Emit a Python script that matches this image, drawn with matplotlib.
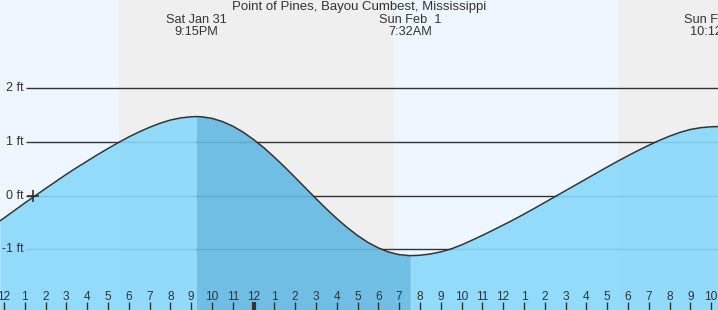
import numpy as np
import matplotlib
matplotlib.use("Agg")
import matplotlib.pyplot as plt

plt.rcParams['font.family'] = ['Liberation Sans', 'DejaVu Sans']

# station name
title = "Point of Pines, Bayou Cumbest, Mississippi"

# tide height (ft) every half hour, hours counted from midnight Feb 1
step_hours = np.arange(-12, 22.5, 0.5)
heights = [-0.42, -0.28, -0.14, -0.005, 0.13, 0.262, 0.395, 0.52, 0.64, 0.76,
           0.875, 0.985, 1.09, 1.185, 1.27, 1.345, 1.405, 1.445, 1.466, 1.466,
           1.437, 1.378, 1.292, 1.18,
           1.043, 0.889, 0.714, 0.530, 0.336, 0.139, -0.057, -0.248, -0.429, -0.595,
           -0.744, -0.874, -0.975, -1.053, -1.101, -1.119, -1.113, -1.089, -1.05, -0.995,
           -0.92, -0.833, -0.742, -0.648, -0.55, -0.452, -0.347, -0.24, -0.13, -0.02,
           0.09, 0.2, 0.31, 0.42, 0.53, 0.637, 0.74, 0.84, 0.935, 1.025,
           1.105, 1.175, 1.23, 1.263, 1.28]

# readings at the left/right edges of the chart
edge_hours = [-12.2, 22.35]
edge_heights = [-0.475, 1.283]

# high / low tides
ext_hours = [-2.75, 7.533, 22.2]
ext_heights = [1.47, -1.12, 1.283]
ext_days = ["Sat Jan 31", "Sun Feb  1", "Sun Feb  1"]
ext_times = ["9:15PM", "7:32AM", "10:12PM"]

# night spans (sunset -> sunrise)
night_start = [-6.47, 17.52]
night_end = [6.75, 30.75]

# current time marker
now_hour = -10.6
now_height = 0.0

levels = [2, 1, 0, -1]
level_labels = ["2 ft", "1 ft", "0 ft", "-1 ft"]

tick_hours = list(range(-12, 23))

# merge all readings into one curve
t = np.concatenate([step_hours, edge_hours, ext_hours])
h = np.concatenate([heights, edge_heights, ext_heights])
order = np.argsort(t)
t, h = t[order], h[order]

W, H = 718, 310
fig = plt.figure(figsize=(W / 100, H / 100), dpi=100)
ax = fig.add_axes([0, 0, 1, 1])
ax.set_xlim(-12.19, 22.33)
ax.set_ylim(-2.132, 3.641)
ax.set_facecolor('#EEF7FF')
for s in ax.spines.values():
    s.set_visible(False)

for a, b in zip(night_start, night_end):
    ax.axvspan(a, b, color='#EFEFEF', lw=0, zorder=0)

# grid lines start just right of the labels
ytr = ax.get_yaxis_transform()
ax.hlines(levels, 26 / W, 1, transform=ytr, color='#333333', lw=1, zorder=1)
for lv, lab in zip(levels, level_labels):
    ax.text(24 / W, lv, lab, transform=ytr, ha='right', va='center',
            fontsize=9, color='#333333', zorder=5)

# tide fill: darker between the first high and the following low
hi, lo = ext_hours[0], ext_hours[1]
m_dark = (t >= hi) & (t <= lo)
m_a = t <= hi
m_b = t >= lo
bottom = -3
ax.fill_between(t[m_a], h[m_a], bottom, color='#88D8FB', alpha=0.9, lw=0, zorder=2)
ax.fill_between(t[m_b], h[m_b], bottom, color='#88D8FB', alpha=0.9, lw=0, zorder=2)
ax.fill_between(t[m_dark], h[m_dark], bottom, color='#62B9E3', alpha=0.9, lw=0, zorder=2)
ax.plot(t, h, color='#333333', lw=1.1, zorder=3)

ax.plot(now_hour, now_height, marker='+', ms=9, mew=1.2, color='#333333', zorder=4)

# hour ticks along the bottom
ax.set_xticks(tick_hours)
ax.set_xticklabels([str((hr - 1) % 12 + 1) for hr in tick_hours])
ax.tick_params(axis='x', direction='in', length=5.8, width=1, color='#333333',
               pad=-13.7, labelsize=8.6, labelcolor='#333333')
ax.tick_params(axis='y', left=False, labelleft=False)
ax.xaxis.set_zorder(6)
for hr, tk in zip(tick_hours, ax.xaxis.get_major_ticks()):
    if hr == 0:
        tk.tick1line.set_markeredgewidth(3)

# high/low labels at the top
xtr = ax.get_xaxis_transform()
for x, d, tm in zip(ext_hours, ext_days, ext_times):
    ax.text(x, 1 - 20 / H, d, transform=xtr, ha='center', va='center',
            fontsize=9.2, color='#333333')
    ax.text(x, 1 - 32 / H, tm, transform=xtr, ha='center', va='center',
            fontsize=9.2, color='#333333')

fig.text(0.5, 1 - 7 / H, title, ha='center', va='center', fontsize=9.55, color='#333333')

fig.savefig('out.png', dpi=100)
